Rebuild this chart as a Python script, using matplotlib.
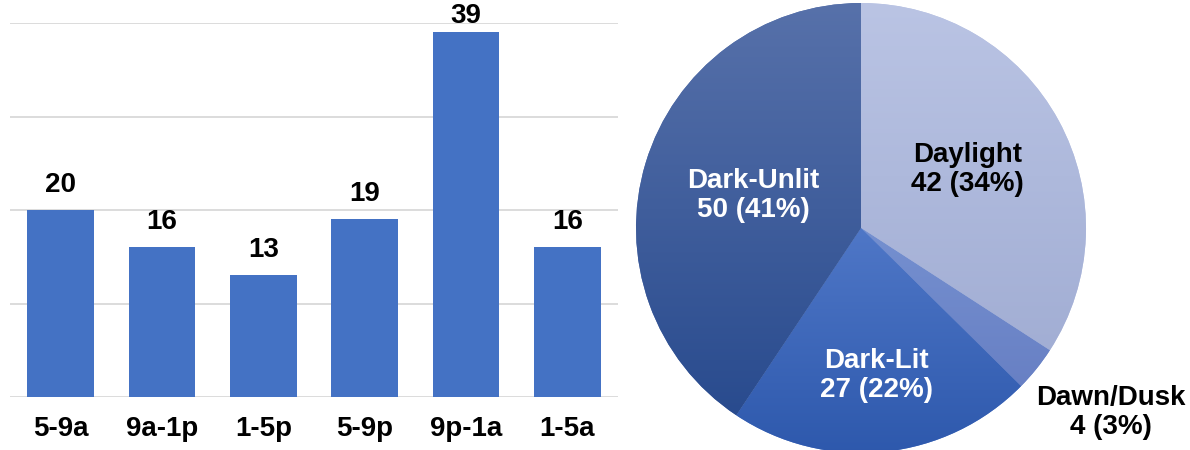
"""Crashes by time of day (bars) and by light condition (pie)."""

import numpy as np
import matplotlib.pyplot as plt
from matplotlib.colors import LinearSegmentedColormap

plt.rcParams['font.family'] = ['Liberation Sans', 'DejaVu Sans']

# time-of-day bars
time_slots = ['5-9a', '9a-1p', '1-5p', '5-9p', '9p-1a', '1-5a']
time_counts = [20, 16, 13, 19, 39, 16]

# light condition pie (clockwise from 12 o'clock)
light_labels = ['Daylight', 'Dawn/Dusk', 'Dark-Lit', 'Dark-Unlit']
light_counts = [42, 4, 27, 50]
light_pcts = [34, 3, 22, 41]

BAR_COLOR = '#4472C4'
GRID_COLOR = '#D9D9D9'
FS = 20
# (top, bottom) of each slice's vertical gradient
SLICE_GRADS = [('#BAC4E4', '#A2AED4'), ('#7590D0', '#6880C4'),
               ('#4F77C7', '#2D58AC'), ('#5771AA', '#294B8E')]
LABEL_COLORS = ['black', 'black', 'white', 'white']

fig = plt.figure(figsize=(11.9, 4.5), dpi=100)

# ---- bar chart ----
ax = fig.add_axes([10 / 1190, 53 / 450, 608 / 1190, 374 / 450])
x = np.arange(len(time_slots))
bars = ax.bar(x, time_counts, width=0.66, color=BAR_COLOR, zorder=3)
ax.set_xlim(-0.5, len(time_slots) - 0.5)
ax.set_ylim(0, 40)
ax.set_yticks([0, 10, 20, 30, 40])
ax.yaxis.grid(True, color=GRID_COLOR, linewidth=1.3)
ax.set_axisbelow(True)
for s in ax.spines.values():
    s.set_visible(False)
ax.tick_params(axis='y', left=False, labelleft=False)
ax.tick_params(axis='x', length=0, pad=14)
ax.set_xticks(x)
ax.set_xticklabels(time_slots, fontsize=FS, fontweight='bold')
for b, v in zip(bars, time_counts):
    # value label sits above the bar, pushed down if it would leave the figure
    ax.text(b.get_x() + b.get_width() / 2, min(v + 2.7, 40.7), str(v),
            ha='center', va='center', fontsize=FS, fontweight='bold',
            clip_on=False)

# ---- pie chart ----
pax = fig.add_axes([(861 - 225) / 1190, (450 - 228 - 225) / 450, 450 / 1190, 450 / 450])
wedges, _ = pax.pie(light_counts, startangle=90, counterclock=False, radius=1,
                    colors=[g[0] for g in SLICE_GRADS],
                    wedgeprops=dict(linewidth=0))
pax.set_aspect('equal')
pax.axis('off')

# gradient fill clipped to each wedge
for w, (top, bot) in zip(wedges, SLICE_GRADS):
    verts = w.get_patch_transform().transform(w.get_path().vertices)
    x0, y0 = verts.min(axis=0)
    x1, y1 = verts.max(axis=0)
    cmap = LinearSegmentedColormap.from_list('g', [bot, top])
    grad = np.linspace(0, 1, 256).reshape(-1, 1)
    im = pax.imshow(grad, cmap=cmap, origin='lower', aspect='auto',
                    extent=(x0, x1, y0, y1), zorder=2)
    im.set_clip_path(w)
pax.set_xlim(-1, 1)
pax.set_ylim(-1, 1)

label_r = [0.54, None, 0.66, 0.5]
for w, lab, n, p, r, c in zip(wedges, light_labels, light_counts, light_pcts,
                              label_r, LABEL_COLORS):
    txt = f'{lab}\n{n} ({p}%)'
    if r is None:
        pos = (1.11, -0.82)
    else:
        ang = np.deg2rad((w.theta1 + w.theta2) / 2)
        pos = (r * np.cos(ang), r * np.sin(ang))
    pax.text(pos[0], pos[1], txt, ha='center', va='center', color=c,
             fontsize=FS, fontweight='bold', linespacing=1.15, zorder=5,
             clip_on=False)

fig.savefig('out.png', dpi=100)
